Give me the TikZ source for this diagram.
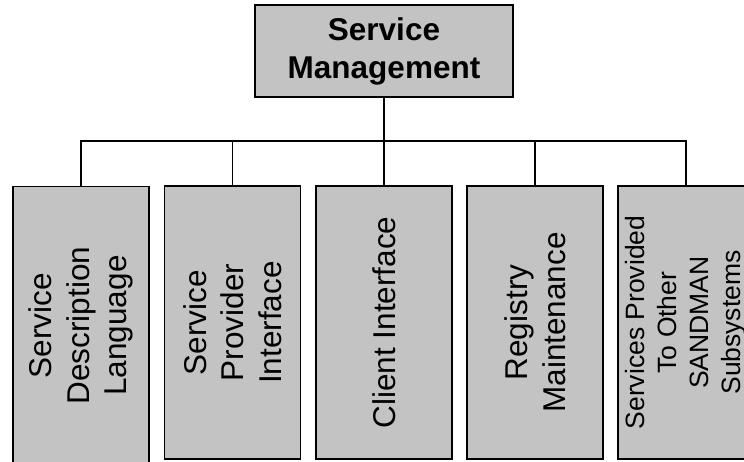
\documentclass[tikz,border=0pt]{standalone}
\usepackage{fontspec}
\setmainfont{Liberation Sans}
\definecolor{boxgray}{HTML}{C3C3C3}
\begin{document}
\begin{tikzpicture}[x=1pt,y=-1pt,
  topbox/.style={draw=black, line width=1.8pt, fill=boxgray, minimum width=258pt, minimum height=92pt, inner sep=0pt, align=center, font=\fontsize{31.5}{38}\selectfont\bfseries},
  subbox/.style={draw=black, line width=1.8pt, fill=boxgray, rotate=90, minimum width=273pt, minimum height=136pt, inner sep=0pt, align=center, font=\fontsize{31.5}{37.5}\selectfont},
  smallbox/.style={subbox, font=\fontsize{26.5}{32}\selectfont},
  conn/.style={draw=black, line width=1.8pt}]
\useasboundingbox (0,0) rectangle (744,461);
\node[topbox] (top) at (384,51) {Service\\Management};
\coordinate (bus) at (384,141);
\node[subbox, minimum width=278pt] (b1) at (81,325.5) {Service\\Description\\Language};
\node[subbox] (b2) at (232.5,322.5) {Service\\Provider\\Interface};
\node[subbox] (b3) at (384,322.5) {Client Interface};
\node[subbox] (b4) at (535,322.5) {Registry\\Maintenance};
\node[smallbox] (b5) at (686,322.5) {Services Provided\\To Other\\SANDMAN\\Subsystems};
\draw[conn] (top.south) -- (top.south |- bus);
\draw[conn] (b1.east) -- (b1.east |- bus) -- (b5.east |- bus) -- (b5.east);
\draw[conn] (b2.east) -- (b2.east |- bus);
\draw[conn] (b3.east) -- (b3.east |- bus);
\draw[conn] (b4.east) -- (b4.east |- bus);
\end{tikzpicture}
\end{document}
